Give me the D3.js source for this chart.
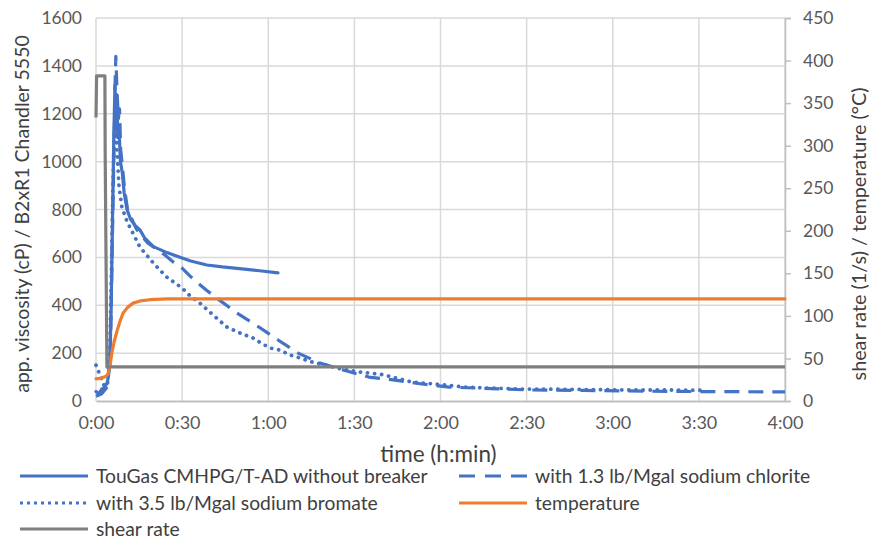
<!DOCTYPE html>
<html><head><meta charset="utf-8">
<script src="https://cdn.jsdelivr.net/npm/d3@7"></script>
<style>body{margin:0;background:#fff}svg{display:block;font-family:Lato,"Open Sans",sans-serif}</style>
</head><body><svg id="c" width="886" height="539"></svg>
<script>
// time in minutes, viscosity in cP
const noBreaker = [[0,40],[1,30],[2,50],[3,55],[4,80],[4.8,150],[5.3,400],[5.8,800],[6.2,1100],[6.6,1320],[6.9,1200],[7.2,1280],[7.6,1100],[8.0,1150],[8.5,1000],[9.2,950],[9.8,870],[10.8,800],[12,760],[13.5,735],[15.3,715],[17,680],[20,645],[24.7,620],[29,602],[33,585],[38.6,568],[44,560],[50,553],[57,544],[63.4,535]];
const chlorite = [[0,20],[2,30],[4,60],[5,200],[5.6,600],[6.2,1000],[6.7,1350],[6.9,1440],[7.3,1300],[7.8,1180],[8.2,1220],[8.6,1050],[9.2,980],[10,880],[11,800],[12.5,760],[14,720],[16,690],[18,660],[21,635],[24,610],[27,580],[30,555],[32.5,525],[35.5,493],[38.5,463],[41.5,435],[49,368],[56,315],[63.4,255],[70.4,200],[78,159],[87.4,125],[95,100],[103.5,88],[113.5,71],[123,58],[133,54],[142,50],[151,46],[170,44],[200,40],[240,38]];
const bromate = [[0,150],[1,120],[2,90],[3,60],[4,70],[4.8,200],[5.3,500],[5.8,850],[6.3,1100],[6.8,1200],[7.3,1050],[8,900],[9,810],[10.8,750],[12.9,700],[15.3,643],[20,576],[24.6,518],[30,472],[32.7,440],[36.2,409],[40.8,359],[45.6,309],[50.2,284],[54.7,263],[57,246],[60.6,221],[64,213],[67.6,192],[71,180],[74.5,165],[80,150],[86,132],[92,121],[100,110],[110,79],[118,71],[128.5,58],[136.5,54],[147.7,50],[155.7,50],[170,48],[185,46],[200,46],[212,45]];
// right axis series
const temperature = [[0,26],[2,27],[3.5,29],[4.2,32],[4.9,42],[5.6,58],[6.5,72],[7.3,82],[8.3,93],[9.4,103],[11,110],[12.9,115],[16,118],[18.8,119],[25,120],[240,120]];
const shearRate = [[0,333],[0.2,382],[3.1,382],[3.2,290],[3.8,40],[240,40]];

const xTicks = [0,30,60,90,120,150,180,210,240];
const yLeftTicks = [0,200,400,600,800,1000,1200,1400,1600];
const yRightTicks = [0,50,100,150,200,250,300,350,400,450];

const legendItems = [
  {name:"TouGas CMHPG/T-AD without breaker", key:"solid"},
  {name:"with 1.3 lb/Mgal sodium chlorite", key:"dash"},
  {name:"with 3.5 lb/Mgal sodium bromate", key:"dot"},
  {name:"temperature", key:"temp"},
  {name:"shear rate", key:"shear"}
];

const blue="#4472C4", orange="#ED7D31", grey="#7F7F7F";
const styles = {
  solid:{color:blue,dash:null,cap:"round",w:3.2,legDash:null},
  dash:{color:blue,dash:"15 9",cap:"butt",w:3.2,legDash:"16 10"},
  dot:{color:blue,dash:"0.1 7",cap:"round",w:3.8,legDash:"3 4"},
  temp:{color:orange,dash:null,cap:"round",w:3.2,legDash:null},
  shear:{color:grey,dash:null,cap:"butt",w:3.2,legDash:null}
};

const L=96,R=785,T=18,B=401;
const x=d3.scaleLinear().domain([0,240]).range([L,R]);
const yL=d3.scaleLinear().domain([0,1600]).range([B,T]);
const yR=d3.scaleLinear().domain([0,450]).range([B,T]);
const svg=d3.select("#c");

// gridlines
svg.append("g").selectAll("line").data(yLeftTicks.slice(1)).join("line")
  .attr("x1",L).attr("x2",R).attr("y1",d=>yL(d)).attr("y2",d=>yL(d))
  .attr("stroke","#d9d9d9").attr("stroke-width",1.5);
svg.append("g").selectAll("line").data(xTicks).join("line")
  .attr("x1",d=>x(d)).attr("x2",d=>x(d)).attr("y1",T).attr("y2",B)
  .attr("stroke","#d9d9d9").attr("stroke-width",1.5);

const fmt=m=>Math.floor(m/60)+":"+String(m%60).padStart(2,"0");
// axes
const xAx=svg.append("g").attr("transform",`translate(0,${B})`)
  .call(d3.axisBottom(x).tickValues(xTicks).tickFormat(fmt).tickSize(0).tickPadding(15));
xAx.select(".domain").attr("stroke","#bfbfbf").attr("stroke-width",2);
xAx.selectAll("text").attr("font-size",18).attr("fill","#595959").attr("font-family","Lato");

const yAx=svg.append("g").attr("transform",`translate(${L},0)`)
  .call(d3.axisLeft(yL).tickValues(yLeftTicks).tickFormat(d3.format("d")).tickSize(0).tickPadding(14));
yAx.select(".domain").remove();
yAx.selectAll("text").attr("font-size",17.5).attr("fill","#595959").attr("font-family","Lato");

const yRAx=svg.append("g").attr("transform",`translate(${R},0)`)
  .call(d3.axisRight(yR).tickValues(yRightTicks).tickSize(6).tickPadding(12));
yRAx.select(".domain").attr("stroke","#bfbfbf").attr("stroke-width",1.5);
yRAx.selectAll("line").attr("stroke","#bfbfbf").attr("stroke-width",1.5);
yRAx.selectAll("text").attr("font-size",17.5).attr("fill","#595959").attr("font-family","Lato");

// series
const lineL=d3.line().x(d=>x(d[0])).y(d=>yL(d[1]));
const lineR=d3.line().x(d=>x(d[0])).y(d=>yR(d[1]));
function draw(data,gen,st){
  svg.append("path").datum(data).attr("d",gen).attr("fill","none")
    .attr("stroke",st.color).attr("stroke-width",st.w)
    .attr("stroke-linecap",st.cap).attr("stroke-linejoin","round")
    .attr("stroke-dasharray",st.dash);
}
draw(noBreaker,lineL,styles.solid);
draw(chlorite,lineL,styles.dash);
draw(bromate,lineL,styles.dot);
draw(temperature,lineR,styles.temp);
draw(shearRate,lineR,styles.shear);

// axis titles
svg.append("text").attr("x",(L+R)/2-2).attr("y",462).attr("text-anchor","middle")
  .attr("font-size",22.5).attr("fill","#404040").text("time (h:min)");
svg.append("text").attr("transform","translate(29,214) rotate(-90)").attr("text-anchor","middle")
  .attr("font-size",19.5).attr("fill","#404040").text("app. viscosity (cP) / B2xR1 Chandler 5550");
svg.append("text").attr("transform","translate(866,234) rotate(-90)").attr("text-anchor","middle")
  .attr("font-size",19.8).attr("fill","#404040").text("shear rate (1/s) / temperature (°C)");

// legend
const pos=[[20,476],[459,476],[20,503],[459,503],[20,529]];
legendItems.forEach((it,i)=>{
  const st=styles[it.key], [lx,ly]=pos[i];
  svg.append("line").attr("x1",lx).attr("x2",lx+68).attr("y1",ly).attr("y2",ly)
    .attr("stroke",st.color).attr("stroke-width",3.2)
    .attr("stroke-dasharray",st.legDash)
    .attr("stroke-linecap","butt");
  svg.append("text").attr("x",lx+76).attr("y",ly).attr("dy","0.35em")
    .attr("font-size",19.3).attr("fill","#404040").text(it.name);
});
</script></body></html>
